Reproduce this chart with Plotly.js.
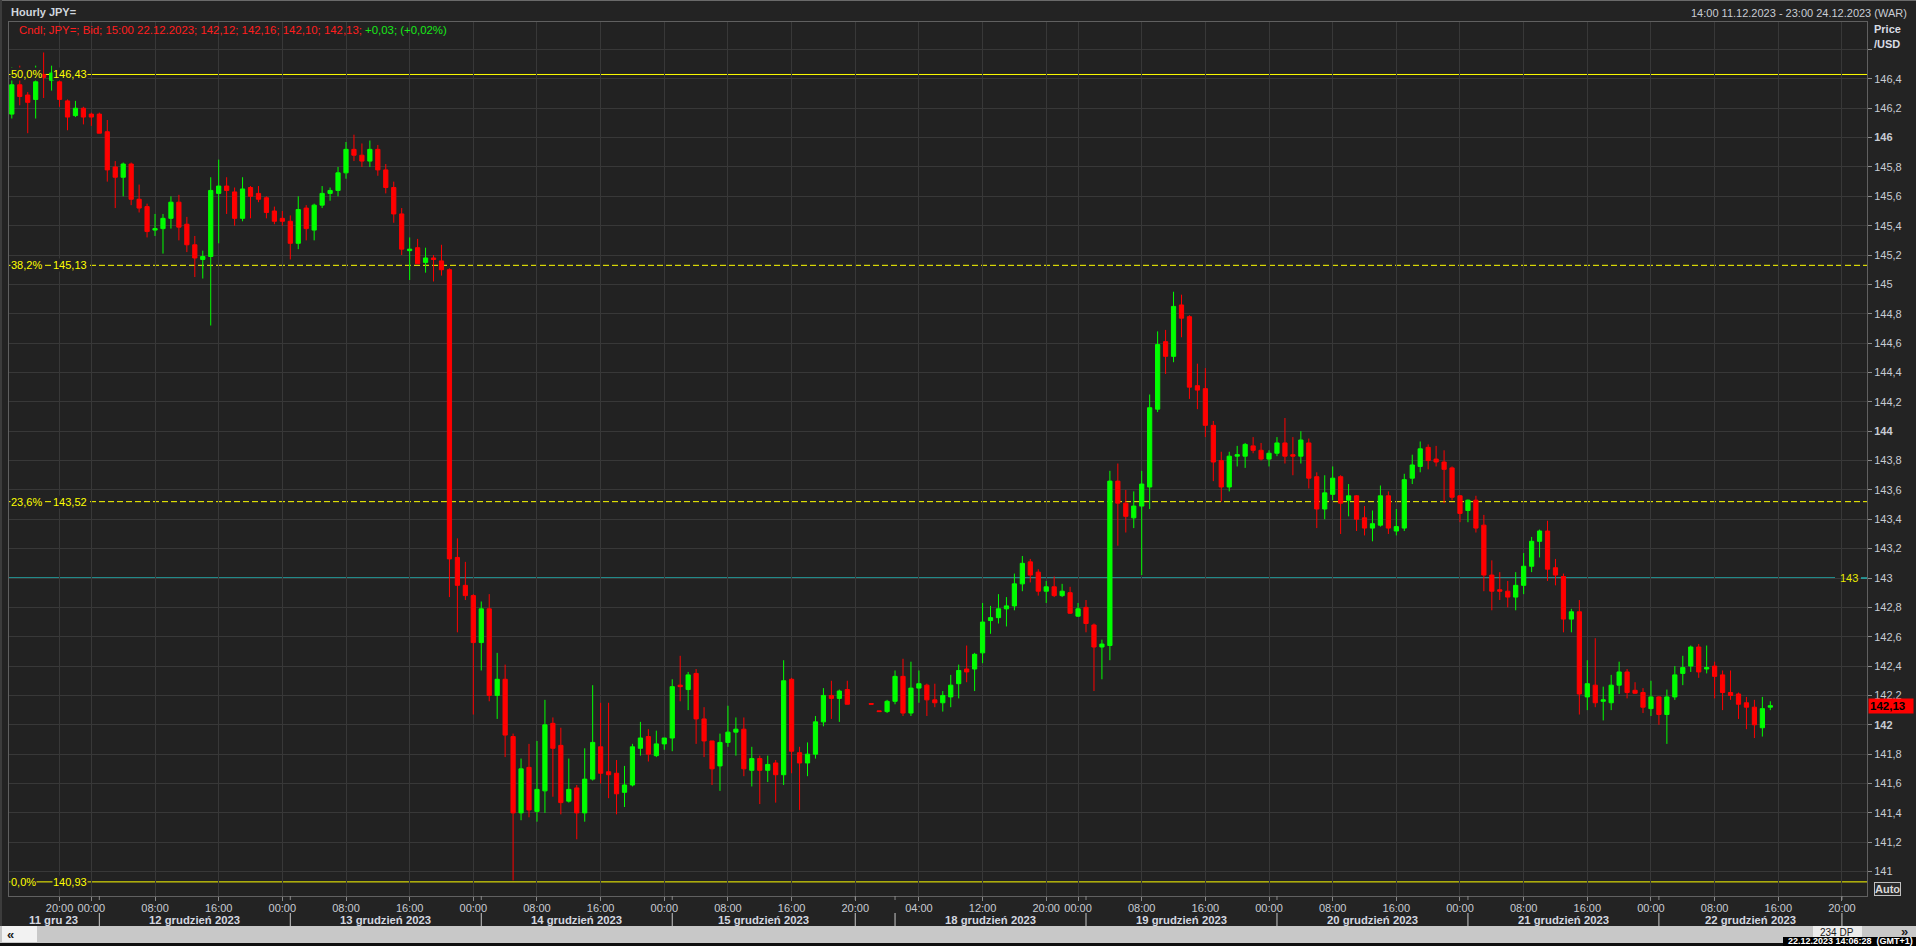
<!DOCTYPE html>
<html><head><meta charset="utf-8">
<script src="https://cdn.plot.ly/plotly-3.0.1.min.js"></script>
<style>html,body{margin:0;padding:0;background:#232323;overflow:hidden}#chart{width:1916px;height:946px}</style>
</head><body><div id="chart"></div>
<script>
// ---- data: hourly USD/JPY candles, slot index = hourly bar position on the chart axis ----
const slots = [];
for (let s = 0; s <= 105; s++) slots.push(s);     // 14:00 11.12 .. 23:00 15.12
for (let s = 108; s <= 221; s++) slots.push(s);   // 22:00 17.12 .. 15:00 22.12

const open = [
146.16,146.36,146.29,146.26,146.43,146.39,146.38,146.25,146.15,146.20,
146.16,146.16,146.04,145.80,145.73,145.82,145.58,145.53,145.37,145.38,
145.45,145.56,145.41,145.27,145.17,145.19,145.62,145.67,145.63,145.45,
145.66,145.62,145.59,145.50,145.45,145.43,145.28,145.52,145.37,145.54,
145.62,145.64,145.76,145.92,145.88,145.84,145.92,145.78,145.66,145.48,
145.23,145.25,145.15,145.18,145.16,145.10,143.14,142.95,142.88,142.56,
142.79,142.20,142.31,141.92,141.40,141.71,141.41,141.55,142.01,141.86,
141.48,141.57,141.40,141.63,141.85,141.68,141.67,141.54,141.59,141.84,
141.92,141.79,141.87,141.91,142.27,142.24,142.35,142.04,141.89,141.72,
141.88,141.95,141.97,141.69,141.77,141.69,141.74,141.66,142.31,141.81,
141.74,141.80,142.02,142.20,142.18,142.24,
142.145,142.095,
142.09,142.16,142.33,142.08,142.25,142.27,142.17,142.15,142.19,142.28,
142.38,142.38,142.49,142.71,142.73,142.79,142.81,142.96,143.11,143.04,
142.91,142.94,142.88,142.90,142.74,142.80,142.68,142.53,142.54,143.66,
143.51,143.41,143.49,143.62,144.15,144.61,144.51,144.86,144.78,144.31,
144.29,144.04,143.80,143.62,143.83,143.83,143.90,143.87,143.81,143.85,
143.92,143.84,143.83,143.92,143.69,143.47,143.57,143.69,143.53,143.56,
143.41,143.34,143.36,143.56,143.32,143.34,143.68,143.76,143.89,143.81,
143.79,143.75,143.56,143.46,143.53,143.36,143.02,142.92,142.91,142.87,
142.95,143.08,143.25,143.32,143.07,143.01,142.72,142.77,142.19,142.27,
142.16,142.15,142.27,142.36,142.235,142.22,142.11,142.19,142.07,142.19,
142.35,142.40,142.53,142.38,142.40,142.34,142.22,142.21,142.15,142.12,
141.98,142.12];

const high = [
146.48,146.49,146.31,146.49,146.58,146.49,146.47,146.26,146.25,146.21,
146.17,146.17,146.12,145.84,145.83,145.83,145.68,145.55,145.48,145.48,
145.60,145.61,145.46,145.33,145.23,145.73,145.85,145.73,145.66,145.73,
145.67,145.67,145.60,145.53,145.50,145.47,145.60,145.54,145.55,145.67,
145.66,145.80,145.97,146.02,145.96,145.98,145.95,145.82,145.70,145.52,
145.32,145.31,145.25,145.20,145.27,145.11,143.27,143.11,142.89,142.84,
142.89,142.49,142.41,141.94,141.77,141.87,141.89,142.17,142.05,141.98,
141.77,141.59,141.84,142.27,142.15,142.15,141.76,141.72,141.87,142.02,
141.97,141.96,141.91,142.31,142.47,142.36,142.38,142.12,141.89,141.94,
142.13,142.05,142.05,141.85,141.79,141.79,141.76,142.44,142.32,141.85,
141.88,142.06,142.25,142.30,142.24,142.30,
142.145,142.095,
142.17,142.37,142.45,142.43,142.37,142.28,142.28,142.23,142.34,142.41,
142.54,142.49,142.83,142.81,142.89,142.87,143.03,143.15,143.13,143.06,
142.98,143.01,142.96,142.94,142.83,142.85,142.69,142.58,143.73,143.78,
143.60,143.59,143.73,144.25,144.68,144.69,144.95,144.93,144.79,144.46,
144.43,144.07,143.86,143.86,143.90,143.92,143.96,143.92,143.87,143.96,
144.09,143.96,144.00,143.95,143.72,143.70,143.76,143.70,143.64,143.565,
143.49,143.46,143.63,143.59,143.47,143.71,143.84,143.93,143.91,143.90,
143.87,143.76,143.565,143.535,143.56,143.43,143.12,143.04,142.98,143.04,
143.17,143.28,143.33,143.39,143.13,143.03,142.79,142.85,142.44,142.59,
142.26,142.34,142.43,142.38,142.29,142.25,142.30,142.195,142.24,142.40,
142.47,142.54,142.55,142.54,142.43,142.37,142.37,142.22,142.19,142.17,
142.19,142.16];

const low = [
146.13,146.22,146.03,146.13,146.27,146.32,146.21,146.05,146.14,146.09,
146.08,146.03,145.70,145.52,145.60,145.54,145.49,145.32,145.33,145.21,
145.38,145.30,145.22,145.05,145.04,144.72,145.28,145.48,145.40,145.43,
145.45,145.56,145.45,145.41,145.40,145.17,145.24,145.30,145.30,145.52,
145.57,145.60,145.72,145.84,145.80,145.80,145.74,145.62,145.42,145.20,
145.03,145.14,145.08,145.02,145.06,142.87,142.63,142.85,142.07,142.37,
142.16,142.04,141.78,140.94,141.35,141.37,141.34,141.40,141.51,141.39,
141.47,141.22,141.34,141.62,141.60,141.50,141.39,141.44,141.58,141.79,
141.75,141.78,141.83,141.82,142.16,142.10,141.87,141.78,141.59,141.55,
141.85,141.79,141.65,141.58,141.46,141.61,141.47,141.59,141.67,141.42,
141.65,141.77,141.99,142.04,142.02,142.14,
142.14,142.09,
142.08,142.14,142.06,142.06,142.15,142.06,142.12,142.09,142.12,142.18,
142.29,142.23,142.42,142.62,142.69,142.67,142.78,142.91,142.97,142.88,
142.83,142.87,142.87,142.755,142.735,142.63,142.23,142.31,142.44,143.22,
143.31,143.34,143.02,143.47,144.13,144.39,144.47,144.64,144.22,144.15,
143.96,143.66,143.52,143.59,143.76,143.75,143.85,143.80,143.76,143.83,
143.78,143.70,143.78,143.61,143.34,143.40,143.53,143.30,143.42,143.32,
143.29,143.25,143.35,143.30,143.29,143.32,143.64,143.72,143.74,143.76,
143.51,143.53,143.38,143.38,143.31,142.91,142.78,142.85,142.80,142.78,
142.89,143.04,143.14,142.98,142.95,142.63,142.63,142.07,142.10,142.12,
142.03,142.10,142.21,142.18,142.21,142.08,142.06,142.00,141.87,142.17,
142.27,142.36,142.32,142.35,142.18,142.10,142.17,142.04,141.97,141.91,
141.92,142.10];

const close = [
146.36,146.28,146.24,146.38,146.41,146.44,146.26,146.14,146.20,146.14,
146.14,146.03,145.78,145.73,145.82,145.58,145.52,145.36,145.38,145.45,
145.56,145.39,145.27,145.18,145.19,145.64,145.67,145.64,145.45,145.65,
145.60,145.58,145.49,145.43,145.43,145.28,145.51,145.38,145.54,145.62,
145.64,145.76,145.92,145.88,145.84,145.92,145.78,145.66,145.48,145.24,
145.24,145.14,145.18,145.17,145.10,143.13,142.95,142.88,142.56,142.79,
142.20,142.31,141.93,141.40,141.70,141.42,141.56,142.00,141.84,141.47,
141.56,141.40,141.63,141.88,141.67,141.66,141.53,141.59,141.85,141.91,
141.80,141.87,141.91,142.26,142.26,142.34,142.04,141.89,141.70,141.88,
141.95,141.97,141.70,141.77,141.69,141.73,141.66,142.30,141.82,141.74,
141.80,142.02,142.20,142.18,142.23,142.14,
142.14,142.09,
142.16,142.33,142.08,142.25,142.28,142.17,142.15,142.20,142.27,142.37,
142.36,142.48,142.70,142.73,142.79,142.81,142.96,143.10,143.02,142.91,
142.94,142.88,142.91,142.76,142.79,142.69,142.53,142.55,143.66,143.51,
143.42,143.49,143.64,144.16,144.59,144.51,144.85,144.77,144.30,144.28,
144.04,143.79,143.62,143.83,143.84,143.91,143.87,143.81,143.85,143.92,
143.83,143.83,143.94,143.68,143.47,143.58,143.68,143.51,143.56,143.40,
143.34,143.37,143.56,143.34,143.35,143.67,143.77,143.88,143.80,143.79,
143.74,143.55,143.44,143.53,143.34,143.02,142.91,142.91,142.87,142.95,
143.08,143.25,143.32,143.06,143.02,142.72,142.77,142.21,142.28,142.15,
142.17,142.27,142.36,142.22,142.215,142.12,142.19,142.07,142.19,142.34,
142.39,142.53,142.36,142.39,142.33,142.22,142.20,142.14,142.12,142.00,
142.11,142.13];

// x-axis time labels (slot index -> label)
const xTickSlots = [6,10,18,26,34,42,50,58,66,74,82,90,98,106,114,122,130,134,142,150,158,166,174,182,190,198,206,214,222,230];
const xTickText  = ['20:00','00:00','08:00','16:00','00:00','08:00','16:00','00:00','08:00','16:00','00:00','08:00','16:00','20:00','04:00','12:00','20:00','00:00','08:00','16:00','00:00','08:00','16:00','00:00','08:00','16:00','00:00','08:00','16:00','20:00'];
// day labels and day separators
const dayLabelSlots = [5.3,23,47,71,94.5,123,147,171,195,218.5];
const dayLabels = ['11 gru 23','12 grudzień 2023','13 grudzień 2023','14 grudzień 2023','15 grudzień 2023','18 grudzień 2023','19 grudzień 2023','20 grudzień 2023','21 grudzień 2023','22 grudzień 2023'];
const daySepSlots = [11,35,59,83,106,111,135,159,183,207,230];
// price axis
const yTickVals = [141,141.2,141.4,141.6,141.8,142,142.2,142.4,142.6,142.8,143,143.2,143.4,143.6,143.8,144,144.2,144.4,144.6,144.8,145,145.2,145.4,145.6,145.8,146,146.2,146.4,146.6];
const yTickText = ['141','141,2','141,4','141,6','141,8','<b>142</b>','142,2','142,4','142,6','142,8','143','143,2','143,4','143,6','143,8','<b>144</b>','144,2','144,4','144,6','144,8','145','145,2','145,4','145,6','145,8','<b>146</b>','146,2','146,4',''];
// Fibonacci retracement levels
const fibLevels = [146.43, 145.13, 143.52, 140.93];
const fibPct    = ['50,0%','38,2%','23,6%','0,0%'];
const fibText   = ['146,43','145,13','143,52','140,93'];
const fibDash   = ['solid','6px,3px','6px,3px','solid'];
const refLevel = 143;        // horizontal cyan line
const lastClose = 142.13;    // last price marker

// ---- geometry helpers (pixel -> paper) ----
const L = 9, R = 1867, T = 22, B = 896;
const X0 = -0.352, X1 = 233.15;
const PX = p => (p - L) / (R - L);
const PY = p => (B - p) / (B - T);
const slotPaper = s => (s - X0) / (X1 - X0);
const FONT = 'Liberation Sans, Arial, sans-serif';
const BG = '#222222';

const shapes = [];
const annotations = [];

fibLevels.forEach((v, i) => {
  shapes.push({type:'line', xref:'paper', yref:'y', x0:0, x1:1, y0:v, y1:v, layer:'between',
    line:{color:'#ffff00', width:1, dash:fibDash[i]}});
  annotations.push({xref:'paper', yref:'y', x:PX(10), y:v, xanchor:'left', yanchor:'middle', showarrow:false,
    text:fibPct[i], font:{family:FONT, size:11, color:'#ffff00'}, bgcolor:BG, borderpad:0});
  annotations.push({xref:'paper', yref:'y', x:PX(51.5), y:v, xanchor:'left', yanchor:'middle', showarrow:false,
    text:fibText[i], font:{family:FONT, size:11, color:'#ffff00'}, bgcolor:BG, borderpad:0});
});
// cyan level line with label
shapes.push({type:'line', xref:'paper', yref:'y', x0:0, x1:PX(1835), y0:refLevel, y1:refLevel, layer:'between', line:{color:'#22f2f2', width:1}});
shapes.push({type:'line', xref:'paper', yref:'y', x0:PX(1861), x1:PX(1867), y0:refLevel, y1:refLevel, line:{color:'#22f2f2', width:1}});
annotations.push({xref:'paper', yref:'y', x:PX(1838.5), y:refLevel, xanchor:'left', yanchor:'middle', showarrow:false,
  text:'143', font:{family:FONT, size:11, color:'#e8e800'}, borderpad:0});

// day separators
daySepSlots.forEach(s => {
  const xp = slotPaper(s);
  shapes.push({type:'line', xref:'paper', yref:'paper', x0:xp, x1:xp, y0:PY(896), y1:PY(900), line:{color:'#8a8a8a', width:1}});
  shapes.push({type:'line', xref:'paper', yref:'paper', x0:xp, x1:xp, y0:PY(913), y1:PY(926), line:{color:'#c8c8c8', width:1}});
});
dayLabelSlots.forEach((s, i) => {
  annotations.push({xref:'x', yref:'paper', x:s, y:PY(920), xanchor:'center', yanchor:'middle', showarrow:false,
    text:'<b>' + dayLabels[i] + '</b>', font:{family:FONT, size:11.3, color:'#d4d8e0'}});
});

// frame decorations
shapes.push({type:'rect', xref:'paper', yref:'paper', x0:PX(0), x1:PX(1916), y0:PY(926), y1:PY(943), fillcolor:'#c8c8c8', line:{width:0}});
shapes.push({type:'rect', xref:'paper', yref:'paper', x0:PX(0), x1:PX(1916), y0:PY(943), y1:PY(946), fillcolor:'#101010', line:{width:0}});
shapes.push({type:'rect', xref:'paper', yref:'paper', x0:PX(2), x1:PX(37), y0:PY(926), y1:PY(942), fillcolor:'#f2f2f2', line:{width:0}});
shapes.push({type:'rect', xref:'paper', yref:'paper', x0:PX(1813), x1:PX(1862), y0:PY(926), y1:PY(937), fillcolor:'#ececec', line:{width:0}});
shapes.push({type:'rect', xref:'paper', yref:'paper', x0:PX(1783), x1:PX(1916), y0:PY(937), y1:PY(946), fillcolor:'#000000', line:{width:0}});
shapes.push({type:'line', xref:'paper', yref:'paper', x0:PX(0), x1:PX(1916), y0:PY(0.5), y1:PY(0.5), line:{color:'#6a6a6a', width:1}});
shapes.push({type:'line', xref:'paper', yref:'paper', x0:PX(1), x1:PX(1), y0:PY(0), y1:PY(926), line:{color:'#3c3c3c', width:2}});

annotations.push({xref:'paper', yref:'paper', x:PX(10), y:PY(934), xanchor:'center', yanchor:'middle', showarrow:false,
  text:'<b>«</b>', font:{family:FONT, size:13, color:'#202020'}});
annotations.push({xref:'paper', yref:'paper', x:PX(1837), y:PY(932), xanchor:'center', yanchor:'middle', showarrow:false,
  text:'234 DP', font:{family:FONT, size:10, color:'#202020'}});
annotations.push({xref:'paper', yref:'paper', x:PX(1904), y:PY(931), xanchor:'center', yanchor:'middle', showarrow:false,
  text:'<b>»</b>', font:{family:FONT, size:13, color:'#202020'}});
annotations.push({xref:'paper', yref:'paper', x:PX(1850), y:PY(941.5), xanchor:'center', yanchor:'middle', showarrow:false,
  text:'<b>22.12.2023 14:06:28  (GMT+1)</b>', font:{family:FONT, size:9, color:'#ffffff'}});

// headers
annotations.push({xref:'paper', yref:'paper', x:PX(9), y:PY(12), xanchor:'left', yanchor:'middle', showarrow:false,
  text:'<b>Hourly JPY=</b>', font:{family:FONT, size:11, color:'#d0d6de'}});
annotations.push({xref:'paper', yref:'paper', x:PX(1909), y:PY(13), xanchor:'right', yanchor:'middle', showarrow:false,
  text:'14:00 11.12.2023 - 23:00 24.12.2023 (WAR)', font:{family:FONT, size:11, color:'#c8ccd4'}});
annotations.push({xref:'paper', yref:'paper', x:PX(17), y:PY(30), xanchor:'left', yanchor:'middle', showarrow:false,
  text:'<span style="color:#ff1e1e">Cndl; JPY=; Bid; 15:00 22.12.2023; 142,12; 142,16; 142,10; 142,13;</span><span style="color:#18e818"> +0,03; (+0,02%)</span>',
  font:{family:FONT, size:11.4, color:'#ff1e1e'}});
annotations.push({xref:'paper', yref:'paper', x:PX(1872), y:PY(29), xanchor:'left', yanchor:'middle', showarrow:false,
  text:'<b>Price</b>', font:{family:FONT, size:11, color:'#d8dce4'}});
annotations.push({xref:'paper', yref:'paper', x:PX(1872), y:PY(44), xanchor:'left', yanchor:'middle', showarrow:false,
  text:'<b>/USD</b>', font:{family:FONT, size:11, color:'#d8dce4'}});
// last price marker
annotations.push({xref:'paper', yref:'y', x:PX(1868), y:lastClose, xanchor:'left', yanchor:'middle', showarrow:false,
  text:'<b>142,13</b>', font:{family:FONT, size:11.5, color:'#000000'}, bgcolor:'#ff0000', borderpad:1, width:42, align:'left'});
// Auto button
annotations.push({xref:'paper', yref:'paper', x:PX(1874), y:PY(889), xanchor:'left', yanchor:'middle', showarrow:false,
  text:'<b>Auto</b>', font:{family:FONT, size:11, color:'#d8d8d8'}, bgcolor:'#2a2a2a', bordercolor:'#c0c0c0', borderwidth:1, borderpad:0});

const trace = {
  type:'candlestick', x:slots, open:open, high:high, low:low, close:close,
  increasing:{line:{color:'#00ff00', width:1}, fillcolor:'#00ff00'},
  decreasing:{line:{color:'#ff0000', width:1}, fillcolor:'#ff0000'},
  whiskerwidth:0, hoverinfo:'skip', showlegend:false
};

const layout = {
  width:1916, height:946,
  margin:{l:L, r:1916 - R, t:T, b:946 - B, pad:0},
  paper_bgcolor:'#232323', plot_bgcolor:BG,
  showlegend:false, boxgap:0.47, boxgroupgap:0,
  font:{family:FONT, size:11, color:'#c8ccd4'},
  xaxis:{range:[X0, X1], tickmode:'array', tickvals:xTickSlots, ticktext:xTickText, tickangle:0,
    ticks:'outside', ticklen:4, tickcolor:'#8a8a8a', tickfont:{family:FONT, size:11, color:'#c8ccd4'},
    ticklabelstandoff:-2,
    showgrid:true, gridcolor:'#383838', gridwidth:1, zeroline:false,
    showline:true, linecolor:'#606060', linewidth:1, mirror:true,
    rangeslider:{visible:false}, fixedrange:true},
  yaxis:{range:[140.8338, 146.7875], side:'right', tickmode:'array', tickvals:yTickVals, ticktext:yTickText,
    ticks:'outside', ticklen:4, tickcolor:'#8a8a8a', tickfont:{family:FONT, size:11, color:'#c8ccd4'},
    showgrid:true, gridcolor:'#383838', gridwidth:1, zeroline:false,
    showline:true, linecolor:'#606060', linewidth:1, mirror:true, fixedrange:true},
  shapes:shapes, annotations:annotations
};

Plotly.newPlot('chart', [trace], layout, {staticPlot:true, displayModeBar:false});
</script></body></html>
